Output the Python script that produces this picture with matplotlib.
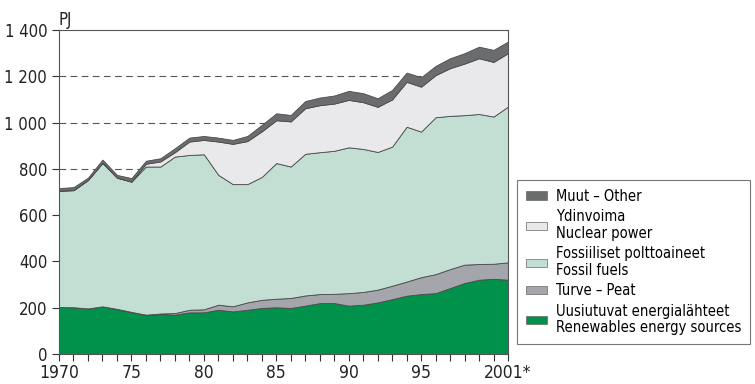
import matplotlib
matplotlib.use("Agg")
import matplotlib.pyplot as plt
from matplotlib.patches import Patch
import numpy as np

years = list(range(1970, 2002))
renewables = [203, 202, 197, 206, 194, 181, 168, 173, 170, 180, 180, 191, 184, 191, 199, 202,
              199, 209, 220, 220, 209, 213, 223, 237, 252, 259, 263, 285, 307, 321, 325, 321]
peat = [0, 0, 0, 0, 1, 1, 2, 2, 7, 11, 13, 22, 22, 32, 35, 37,
        43, 44, 39, 40, 54, 55, 55, 58, 61, 73, 82, 82, 79, 68, 65, 75]
fossil = [503, 506, 555, 620, 567, 563, 640, 635, 676, 669, 670, 561, 528, 511, 531, 586,
          568, 612, 613, 618, 630, 618, 595, 601, 669, 629, 678, 662, 646, 648, 636, 673]
nuclear = [0, 0, 0, 0, 0, 0, 12, 22, 19, 58, 62, 144, 174, 186, 197, 185,
           195, 197, 203, 204, 205, 202, 195, 204, 194, 194, 182, 206, 223, 241, 236, 231]
other = [11, 13, 10, 14, 12, 15, 13, 14, 17, 17, 17, 17, 17, 22, 28, 30,
         28, 31, 33, 35, 39, 39, 37, 41, 40, 41, 40, 43, 45, 50, 52, 50]

labels = ["Uusiutuvat energialähteet\nRenewables energy sources",
          "Turve – Peat",
          "Fossiiliset polttoaineet\nFossil fuels",
          "Ydinvoima\nNuclear power",
          "Muut – Other"]
colors = ["#00924a", "#a4a6ab", "#c3dfd4", "#e9e9ec", "#6b6c6e"]

ytick_vals = [0, 200, 400, 600, 800, 1000, 1200, 1400]
ytick_labels = ["0", "200", "400", "600", "800", "1 000", "1 200", "1 400"]
xtick_vals = [1970, 1975, 1980, 1985, 1990, 1995, 2001]
xtick_labels = ["1970", "75", "80", "85", "90", "95", "2001*"]

plt.rcParams['font.family'] = ['DejaVu Sans']
plt.rcParams['font.stretch'] = 'condensed'

fig = plt.figure(figsize=(7.55, 3.84), dpi=100)
ax = fig.add_axes([59/755, 1-354/384, (508-59)/755, (354-30)/384])

series = [renewables, peat, fossil, nuclear, other]
ax.stackplot(years, *series, colors=colors, edgecolor="#4a4a4a", linewidth=0.6, zorder=2)

ax.set_xlim(1970, 2001)
ax.set_ylim(0, 1400)

for g in [200, 400, 600, 800, 1000, 1200]:
    ax.axhline(g, color="#555555", linestyle=(0, (6, 4)), linewidth=0.8, zorder=1)

ax.set_yticks(ytick_vals)
ax.set_yticklabels(ytick_labels)
ax.set_xticks(years, minor=True)
ax.set_xticks(xtick_vals)
ax.set_xticklabels(xtick_labels)
ax.tick_params(axis="both", which="both", direction="out", length=5, width=0.8,
               color="#333333", labelsize=12, labelcolor="#222222")
ax.tick_params(axis="x", which="major", pad=2, labelsize=12.5)
for s in ax.spines.values():
    s.set_color("#555555")
    s.set_linewidth(0.8)

fig.text(58/755, 1-25/384, "PJ", fontsize=12, color="#222222", ha="left", va="baseline")

handles = [Patch(facecolor=c, edgecolor="#666666", linewidth=0.5) for c in colors]
leg = fig.legend(handles[::-1], labels[::-1], loc="upper left",
                 bbox_to_anchor=(517/755, 1-180/384), fontsize=10.5, frameon=True,
                 fancybox=False, edgecolor="#555555", handlelength=1.45, handleheight=0.5,
                 handletextpad=0.6, labelspacing=0.38, borderpad=0.6, borderaxespad=0)
leg.get_frame().set_linewidth(0.8)
for t in leg.get_texts():
    t.set_linespacing(1.12)

fig.savefig("out.png", dpi=100)
